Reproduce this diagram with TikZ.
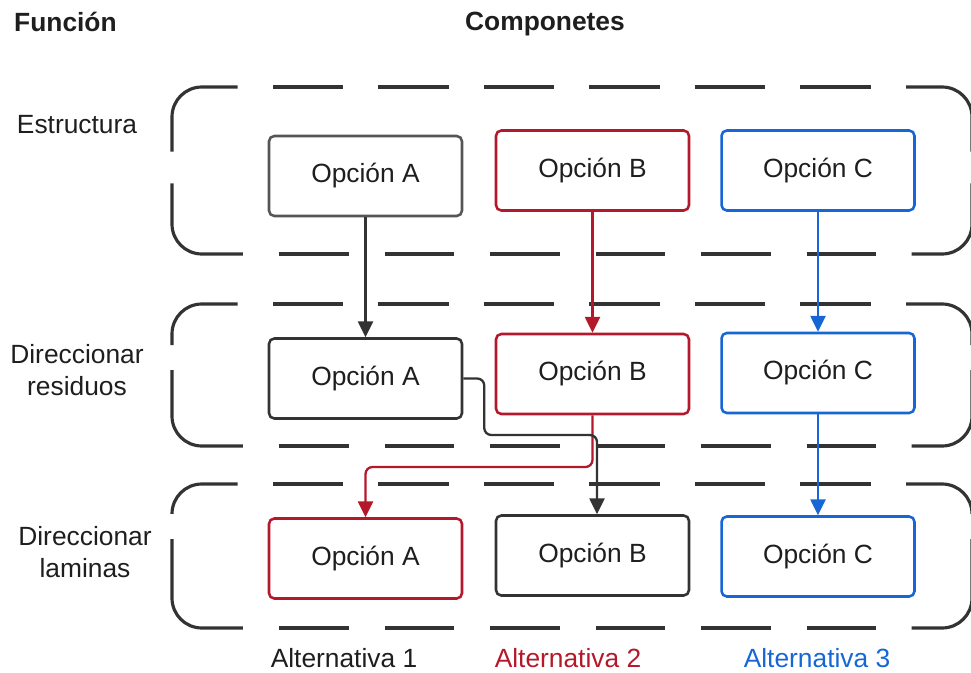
\documentclass[tikz,border=0pt]{standalone}
\usepackage{fontspec}
\setmainfont{Liberation Sans}
\usetikzlibrary{arrows.meta}
\definecolor{cred}{HTML}{B3192B}
\definecolor{cblue}{HTML}{1766D6}
\definecolor{cgray}{HTML}{555555}
\definecolor{cdark}{HTML}{333333}
\definecolor{ctext}{HTML}{1E1E1E}
\tikzset{
  grp/.style={draw=cdark, line width=1.8pt, rounded corners=17pt},
  obox/.style={draw, line width=1.45pt, rounded corners=3pt, minimum width=3.86cm, minimum height=1.6cm,
    text=ctext, font=\fontsize{15}{18}\selectfont},
  lab/.style={text=ctext, font=\fontsize{15}{18}\selectfont, align=center},
  head/.style={text=ctext, font=\bfseries\fontsize{15}{18}\selectfont},
  link/.style={line width=1.3pt, rounded corners=4pt, -{Triangle[length=9pt,width=8.5pt]}},
}
\begin{document}
\begin{tikzpicture}[x=0.02cm, y=-0.02cm]
\useasboundingbox (0,0) rectangle (971,673);
\clip (0,0) rectangle (971,673);

% dashed function bands: solid rounded corners, dashed straight runs
\foreach \yt/\yb/\va/\vb in {87/254/151.7/183.3, 304/446/345/370, 484/628/513/539} {
  \draw[grp] (237.6,\yt) -- (172,\yt) -- (172,\va);
  \draw[grp] (172,\vb) -- (172,\yb) -- (242.8,\yb);
  \draw[grp] (906,\yt) -- (972,\yt) -- (972,\va);
  \draw[grp] (972,\vb) -- (972,\yb) -- (911.7,\yb);
  \foreach \k in {0,...,5} {
    \draw[grp] (272.8+105.5*\k,\yt) -- ++(70.4,0);
    \draw[grp] (279+105.5*\k,\yb) -- ++(69.5,0);
  }
}

% headings
\node[head, anchor=west] (hfun) at (8,22) {Función};
\node[head] (hcomp) at (545,24) {Componetes};

% function labels
\node[lab] (f1) at (77,125) {Estructura};
\node[lab] (f2) at (77,370) {Direccionar\\residuos};
\node[lab] (f3) at (85,552) {Direccionar\\laminas};

% option boxes
\node[obox, draw=cgray] (a1) at (365.5,176) {Opción A};
\node[obox, draw=cred]  (b1) at (592.5,170.5) {Opción B};
\node[obox, draw=cblue] (c1) at (818,170.5) {Opción C};

\node[obox, draw=cdark] (a2) at (365.5,378.5) {Opción A};
\node[obox, draw=cred]  (b2) at (592.5,374) {Opción B};
\node[obox, draw=cblue] (c2) at (818,373) {Opción C};

\node[obox, draw=cred]  (a3) at (365.5,558.5) {Opción A};
\node[obox, draw=cdark] (b3) at (592.5,555.5) {Opción B};
\node[obox, draw=cblue] (c3) at (818,556.5) {Opción C};

% alternative labels
\node[lab] (alt1) at (344,658) {Alternativa 1};
\node[lab, text=cred] (alt2) at (568,658) {Alternativa 2};
\node[lab, text=cblue] (alt3) at (817,658) {Alternativa 3};

% connectors
\draw[link, draw=cdark] (a1) -- (a2);
\draw[link, draw=cred] (b1) -- (b2);
\draw[link, draw=cblue] (c1) -- (c2);
\draw[link, draw=cblue] (c2) -- (c3);

\coordinate (rturn) at (592.5,467);
\draw[link, draw=cred] (b2.south) -- (rturn) -| (a3.north);

\coordinate (gturn) at (597,435);
\draw[link, draw=cdark] (a2.east) -- ++(21,0) |- (gturn) -- (gturn |- b3.north);
\end{tikzpicture}
\end{document}
